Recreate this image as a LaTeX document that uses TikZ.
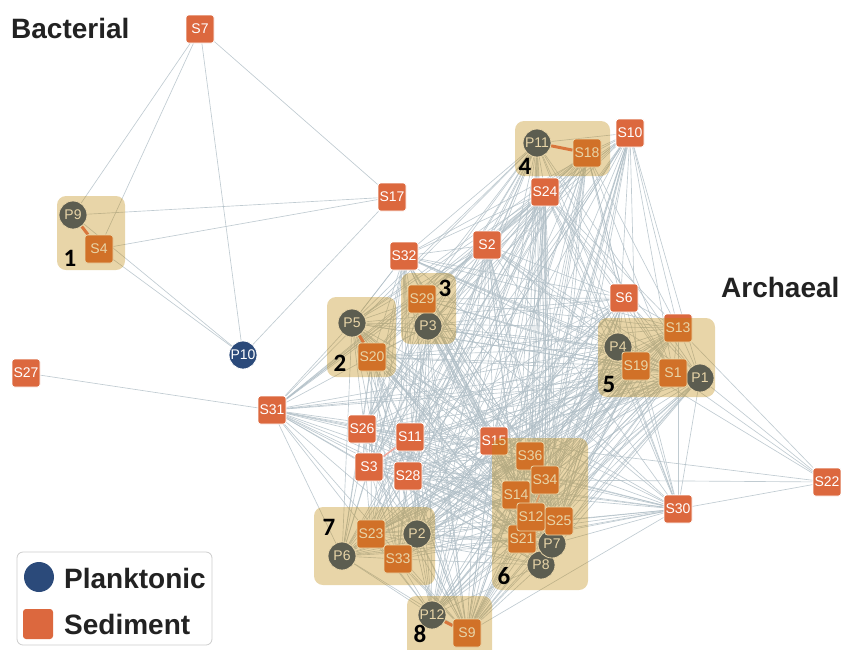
\documentclass[tikz,border=0pt]{standalone}
\usepackage{fontspec}
\setmainfont{Liberation Sans}
\newfontfamily\numfont{Carlito}
\definecolor{sedc}{RGB}{220,104,62}
\definecolor{plkc}{RGB}{43,74,122}
\definecolor{edgec}{RGB}{176,190,198}
\definecolor{redc}{RGB}{232,112,92}
\definecolor{grpc}{RGB}{189,132,0}
\definecolor{txtc}{RGB}{34,34,34}
\pgfdeclarelayer{edges}
\pgfdeclarelayer{front}
\pgfsetlayers{edges,main,front}
\tikzset{
  sed/.style={rectangle, rounded corners=2.5pt, minimum size=28pt, inner sep=0pt,
    fill=sedc, draw=white, line width=0.8pt, text=white, font=\fontsize{14}{14}\selectfont},
  plk/.style={circle, minimum size=28pt, inner sep=0pt,
    fill=plkc, draw=white, line width=0.8pt, text=white, font=\fontsize{14}{14}\selectfont},
  edge/.style={draw=edgec, line width=0.65pt, opacity=0.8},
  redge/.style={draw=redc, line width=3pt},
  pedge/.style={draw=redc!60, line width=1.5pt},
  grp/.style={fill=grpc, fill opacity=0.34, rounded corners=9pt},
  num/.style={font=\numfont\bfseries\fontsize{25}{25}\selectfont, text=black, inner sep=0pt},
  ttl/.style={font=\bfseries\fontsize{28}{28}\selectfont, text=txtc, inner sep=0pt, anchor=west},
  lgt/.style={font=\bfseries\fontsize{28}{28}\selectfont, text=txtc, inner sep=0pt, anchor=west}
}
\begin{document}
\begin{tikzpicture}[x=1pt,y=-1pt]
\useasboundingbox (0,0) rectangle (841,649);
% nodes
\node[sed] (S7) at (200,29) {S7};
\node[sed] (S17) at (392,197) {S17};
\node[plk] (P9) at (73,215) {P9};
\node[sed] (S4) at (99,249) {S4};
\node[plk] (P10) at (243,355) {P10};
\node[sed] (S27) at (26,373) {S27};
\node[sed] (S31) at (272,410) {S31};
\node[sed] (S32) at (404,256) {S32};
\node[sed] (S2) at (487,245) {S2};
\node[sed] (S24) at (545,192) {S24};
\node[sed] (S10) at (630,133) {S10};
\node[plk] (P11) at (537,143) {P11};
\node[sed] (S18) at (587,153) {S18};
\node[plk] (P3) at (428,326) {P3};
\node[sed] (S29) at (422,299) {S29};
\node[plk] (P5) at (352,323) {P5};
\node[sed] (S20) at (372,357) {S20};
\node[sed] (S6) at (624,298) {S6};
\node[plk] (P4) at (618,347) {P4};
\node[sed] (S19) at (636,366) {S19};
\node[plk] (P1) at (700,378) {P1};
\node[sed] (S1) at (673,373) {S1};
\node[sed] (S13) at (678,328) {S13};
\node[sed] (S26) at (362,429) {S26};
\node[sed] (S11) at (410,437) {S11};
\node[sed] (S3) at (369,467) {S3};
\node[sed] (S28) at (408,476) {S28};
\node[sed] (S15) at (494,441) {S15};
\node[plk] (P8) at (541,565) {P8};
\node[plk] (P7) at (552,544) {P7};
\node[sed] (S21) at (522,539) {S21};
\node[sed] (S25) at (559,521) {S25};
\node[sed] (S14) at (516,495) {S14};
\node[sed] (S12) at (531,517) {S12};
\node[sed] (S36) at (530,456) {S36};
\node[sed] (S34) at (545,480) {S34};
\node[sed] (S30) at (678,509) {S30};
\node[sed] (S22) at (827,482) {S22};
\node[plk] (P6) at (342,556) {P6};
\node[sed] (S23) at (371,534) {S23};
\node[plk] (P2) at (417,534) {P2};
\node[sed] (S33) at (398,559) {S33};
\node[plk] (P12) at (432,615) {P12};
\node[sed] (S9) at (467,633) {S9};

\begin{pgfonlayer}{edges}
  \foreach \a/\b in {S7/P9,S7/S4,S7/P10,S7/S17,S17/P9,S17/S4,S17/P10,P10/S4,P10/P9,
      S32/P5,S27/S31,S22/P1,S22/S13,S22/S1,S22/S19,S22/S15,S22/S34,S22/S30}
    \draw[edge] (\a) -- (\b);
  \foreach \a [count=\i] in {S32,S2,S24,S10,P11,S18,S29,P3,P5,S20,S6,S13,P4,S19,S1,P1,S31,S26,S11,S3,S28,S15,S36,S34,S14,S12,S25,S21,P7,P8,S30,S23,P2,P6,S33,P12,S9}{
    \foreach \b [count=\j] in {S32,S2,S24,S10,P11,S18,S29,P3,P5,S20,S6,S13,P4,S19,S1,P1,S31,S26,S11,S3,S28,S15,S36,S34,S14,S12,S25,S21,P7,P8,S30,S23,P2,P6,S33,P12,S9}{
      \ifnum\j>\i
        \pgfmathtruncatemacro\r{mod(\i*13+\j*29+\i*\j*5,11)}
        \ifnum\r<8 \draw[edge] (\a) -- (\b); \fi
      \fi
    }
  }
  \foreach \a/\b in {P9/S4,P11/S18,P5/S20,P12/S9}
    \draw[redge] (\a) -- (\b);
  \foreach \a/\b in {S3/S11,S34/S12}
    \draw[pedge] (\a) -- (\b);
\end{pgfonlayer}

\begin{pgfonlayer}{front}
  \fill[grp] (57,196) rectangle (125,270);
  \fill[grp] (327,297) rectangle (396,377);
  \fill[grp] (401,273) rectangle (456,344);
  \fill[grp] (515,121) rectangle (610,176);
  \fill[grp] (598,318) rectangle (715,397);
  \fill[grp] (492,438) rectangle (588,590);
  \fill[grp] (314,507) rectangle (435,585);
  \fill[grp] (407,596) rectangle (492,660);
  \node[num] (n1) at (70,258) {1};
  \node[num] (n2) at (340,363) {2};
  \node[num] (n3) at (445,288) {3};
  \node[num] (n4) at (525,166) {4};
  \node[num] (n5) at (609,384) {5};
  \node[num] (n6) at (504,576) {6};
  \node[num] (n7) at (329,527) {7};
  \node[num] (n8) at (420,634) {8};
  \node[ttl] (tB) at (11,28) {Bacterial};
  \node[ttl] (tA) at (721,287) {Archaeal};
  % legend
  \draw[rounded corners=6pt, draw=black!20, line width=0.8pt, fill=white] (17,552) rectangle (212,645);
  \node[circle, minimum size=30pt, inner sep=0pt, fill=plkc] (lgP) at (39,577) {};
  \node[rectangle, rounded corners=3pt, minimum size=30pt, inner sep=0pt, fill=sedc] (lgS) at (38,624) {};
  \node[lgt] (lgPt) at (64,578) {Planktonic};
  \node[lgt] (lgSt) at (64,624) {Sediment};
\end{pgfonlayer}
\end{tikzpicture}
\end{document}
